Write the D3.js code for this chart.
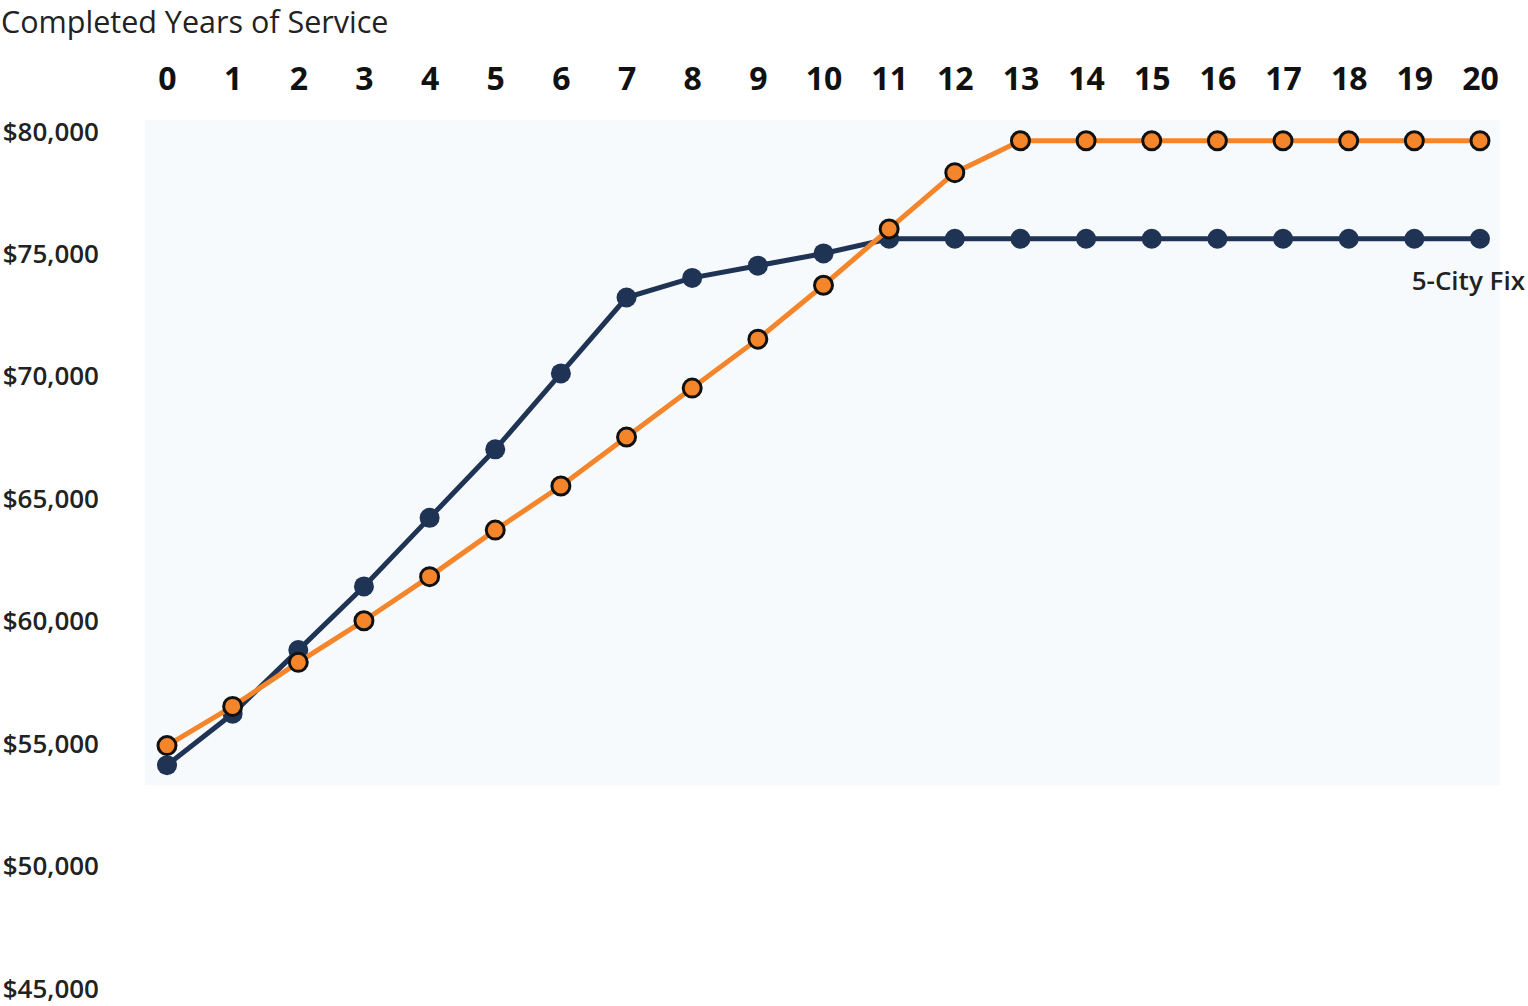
<!DOCTYPE html>
<html><head><meta charset="utf-8">
<script src="https://cdn.jsdelivr.net/npm/d3@7"></script>
<style>body{margin:0;background:#fff;overflow:hidden}svg{display:block}</style>
</head><body>
<svg id="c" width="1528" height="1006"></svg>
<script>
const years = [0,1,2,3,4,5,6,7,8,9,10,11,12,13,14,15,16,17,18,19,20];
const fixValues = [54100,56200,58800,61400,64200,67000,70100,73200,74000,74500,75000,75600,75600,75600,75600,75600,75600,75600,75600,75600,75600];
const otherValues = [54900,56500,58300,60000,61800,63700,65500,67500,69500,71500,73700,76000,78300,79600,79600,79600,79600,79600,79600,79600,79600];
const yTicks = [80000,75000,70000,65000,60000,55000,50000,45000];
const titleText = "Completed Years of Service";
const seriesLabel = "5-City Fix";

const svg = d3.select("#c");
const x = d3.scaleLinear().domain([0,20]).range([167,1480]);
const y = d3.scaleLinear().domain([45000,80000]).range([988,131]);
const font = "'Open Sans', 'Liberation Sans', sans-serif";

// background panel
svg.append("rect").attr("x",145).attr("y",120).attr("width",1355).attr("height",665).attr("fill","#f7fafc");

svg.append("text").attr("x",1).attr("y",33).text(titleText)
  .attr("font-family",font).attr("font-size",30.5).attr("fill","#222");

// top x axis
const xAxis = d3.axisTop(x).tickValues(years).tickSize(0).tickPadding(0);
const gx = svg.append("g").attr("transform","translate(0,90)").call(xAxis);
gx.select(".domain").remove();
gx.selectAll("text").attr("font-family",font).attr("font-size",32).attr("font-weight","bold").attr("fill","#111");

// left y axis
const yAxis = d3.axisLeft(y).tickValues(yTicks).tickSize(0).tickPadding(0).tickFormat(d3.format("$,"));
const gy = svg.append("g").attr("transform","translate(99,0)").call(yAxis);
gy.select(".domain").remove();
gy.selectAll("text").attr("font-family",font).attr("font-size",26).attr("font-weight",600).attr("fill","#222").attr("dy","0.35em");

const line = d3.line().x((d,i)=>x(years[i])).y(d=>y(d));

// navy series
svg.append("path").datum(fixValues).attr("d",line).attr("fill","none").attr("stroke","#1f3355").attr("stroke-width",5);
svg.selectAll("circle.fix").data(fixValues).join("circle").attr("class","fix")
  .attr("cx",(d,i)=>x(years[i])).attr("cy",d=>y(d)).attr("r",10).attr("fill","#1f3355");

// orange series
svg.append("path").datum(otherValues).attr("d",line).attr("fill","none").attr("stroke","#f5852b").attr("stroke-width",5);
svg.selectAll("circle.oth").data(otherValues).join("circle").attr("class","oth")
  .attr("cx",(d,i)=>x(years[i])).attr("cy",d=>y(d)).attr("r",9).attr("fill","#f5852b").attr("stroke","#111").attr("stroke-width",3);

svg.append("text").attr("x",1525).attr("y",y(fixValues[20])+51).attr("text-anchor","end").text(seriesLabel)
  .attr("font-family",font).attr("font-size",26).attr("font-weight",600).attr("fill","#222");
</script>
</body></html>
